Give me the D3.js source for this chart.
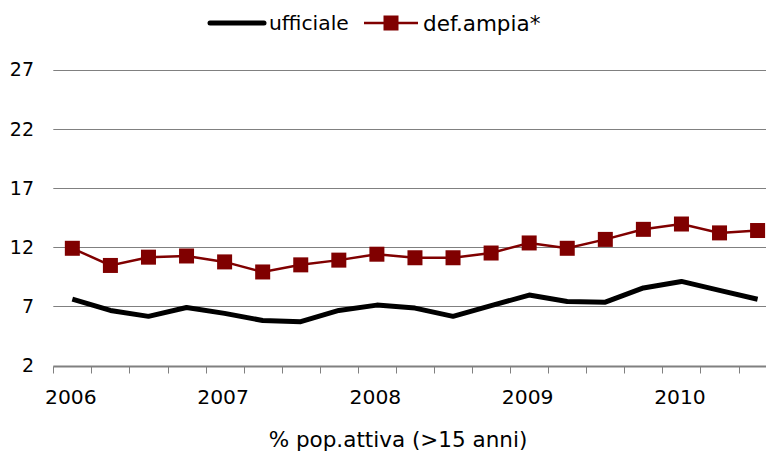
<!DOCTYPE html>
<html><head><meta charset="utf-8">
<script src="https://cdn.jsdelivr.net/npm/d3@7"></script>
<style>body{margin:0;background:#fff}svg{display:block}text{font-family:"DejaVu Sans",Verdana,sans-serif}</style>
</head><body><svg id="c" width="766" height="453"></svg>
<script>
const quarters = ["2006 T1","2006 T2","2006 T3","2006 T4","2007 T1","2007 T2","2007 T3","2007 T4","2008 T1","2008 T2","2008 T3","2008 T4","2009 T1","2009 T2","2009 T3","2009 T4","2010 T1","2010 T2","2010 T3"];
const ufficiale = [7.6,6.65,6.15,6.9,6.4,5.8,5.7,6.65,7.1,6.85,6.15,7.05,7.95,7.4,7.35,8.55,9.1,8.35,7.6];
const defAmpia = [11.9,10.45,11.15,11.25,10.75,9.9,10.5,10.9,11.4,11.1,11.1,11.5,12.35,11.9,12.65,13.5,13.95,13.2,13.4];
const yTicks = [2,7,12,17,22,27];
const yearLabels = ["2006","2007","2008","2009","2010"];
const seriesNames = ["ufficiale","def.ampia*"];

const svg = d3.select("#c");
const left = 53.3, step = 38.07;
const x = d3.scaleBand().domain(quarters).range([left, left + step*quarters.length]).padding(0);
const y = d3.scaleLinear().domain([2,27]).range([365.5,69.5]);
const cx = d => x(d) + x.bandwidth()/2;

// gridlines
svg.append("g").selectAll("line").data(yTicks.filter(t=>t>2)).join("line")
  .attr("x1", left).attr("x2", 766).attr("y1", d=>Math.round(y(d))+0.5).attr("y2", d=>Math.round(y(d))+0.5)
  .attr("stroke","#808080").attr("stroke-width",1);
// y labels
svg.append("g").selectAll("text").data(yTicks).join("text")
  .attr("x", 34).attr("y", d=>y(d)).attr("dy","0.36em").attr("text-anchor","end")
  .attr("font-size",19).attr("fill","#000").text(d=>d);
// x axis
const xa = svg.append("g").attr("transform",`translate(0,${Math.round(y(2))+0.5})`);
xa.append("line").attr("x1",left).attr("x2",766).attr("stroke","#808080").attr("stroke-width",2);
xa.selectAll("line.t").data(quarters).join("line").attr("class","t")
  .attr("x1",d=>Math.round(x(d))+0.5).attr("x2",d=>Math.round(x(d))+0.5).attr("y1",0).attr("y2",7)
  .attr("stroke","#808080").attr("stroke-width",1);
xa.selectAll("text").data(quarters.filter(q=>q.endsWith("T1"))).join("text")
  .attr("x",d=>cx(d)-1.5).attr("y",37).attr("text-anchor","middle").attr("font-size",20.3).attr("fill","#000")
  .text(d=>yearLabels.find(yl=>d.startsWith(yl)));
svg.append("text").attr("x",398).attr("y",447).attr("text-anchor","middle").attr("font-size",21.5)
  .text("% pop.attiva (>15 anni)");

const line = d3.line().x((d,i)=>cx(quarters[i])).y(d=>y(d));
svg.append("path").datum(ufficiale).attr("d",line).attr("fill","none").attr("stroke","#000").attr("stroke-width",5).attr("stroke-linejoin","round");
svg.append("path").datum(defAmpia).attr("d",line).attr("fill","none").attr("stroke","#800000").attr("stroke-width",2.5);
svg.append("g").selectAll("rect").data(defAmpia).join("rect")
  .attr("x",(d,i)=>cx(quarters[i])-7.5).attr("y",d=>y(d)-7.5).attr("width",15).attr("height",15)
  .attr("fill","#800000");

// legend
const lg = svg.append("g");
const ly = 23;
lg.append("line").attr("x1",210).attr("x2",264).attr("y1",ly).attr("y2",ly).attr("stroke","#000").attr("stroke-width",5).attr("stroke-linecap","round");
lg.append("text").attr("x",269).attr("y",ly).attr("dy","0.36em").attr("font-size",20.3).text(seriesNames[0]);
lg.append("line").attr("x1",364).attr("x2",418).attr("y1",ly).attr("y2",ly).attr("stroke","#800000").attr("stroke-width",2.5);
lg.append("rect").attr("x",391-7.5).attr("y",ly-7.5).attr("width",15).attr("height",15).attr("fill","#800000");
lg.append("text").attr("x",423).attr("y",ly).attr("dy","0.36em").attr("font-size",21.5).text(seriesNames[1]);
</script></body></html>
